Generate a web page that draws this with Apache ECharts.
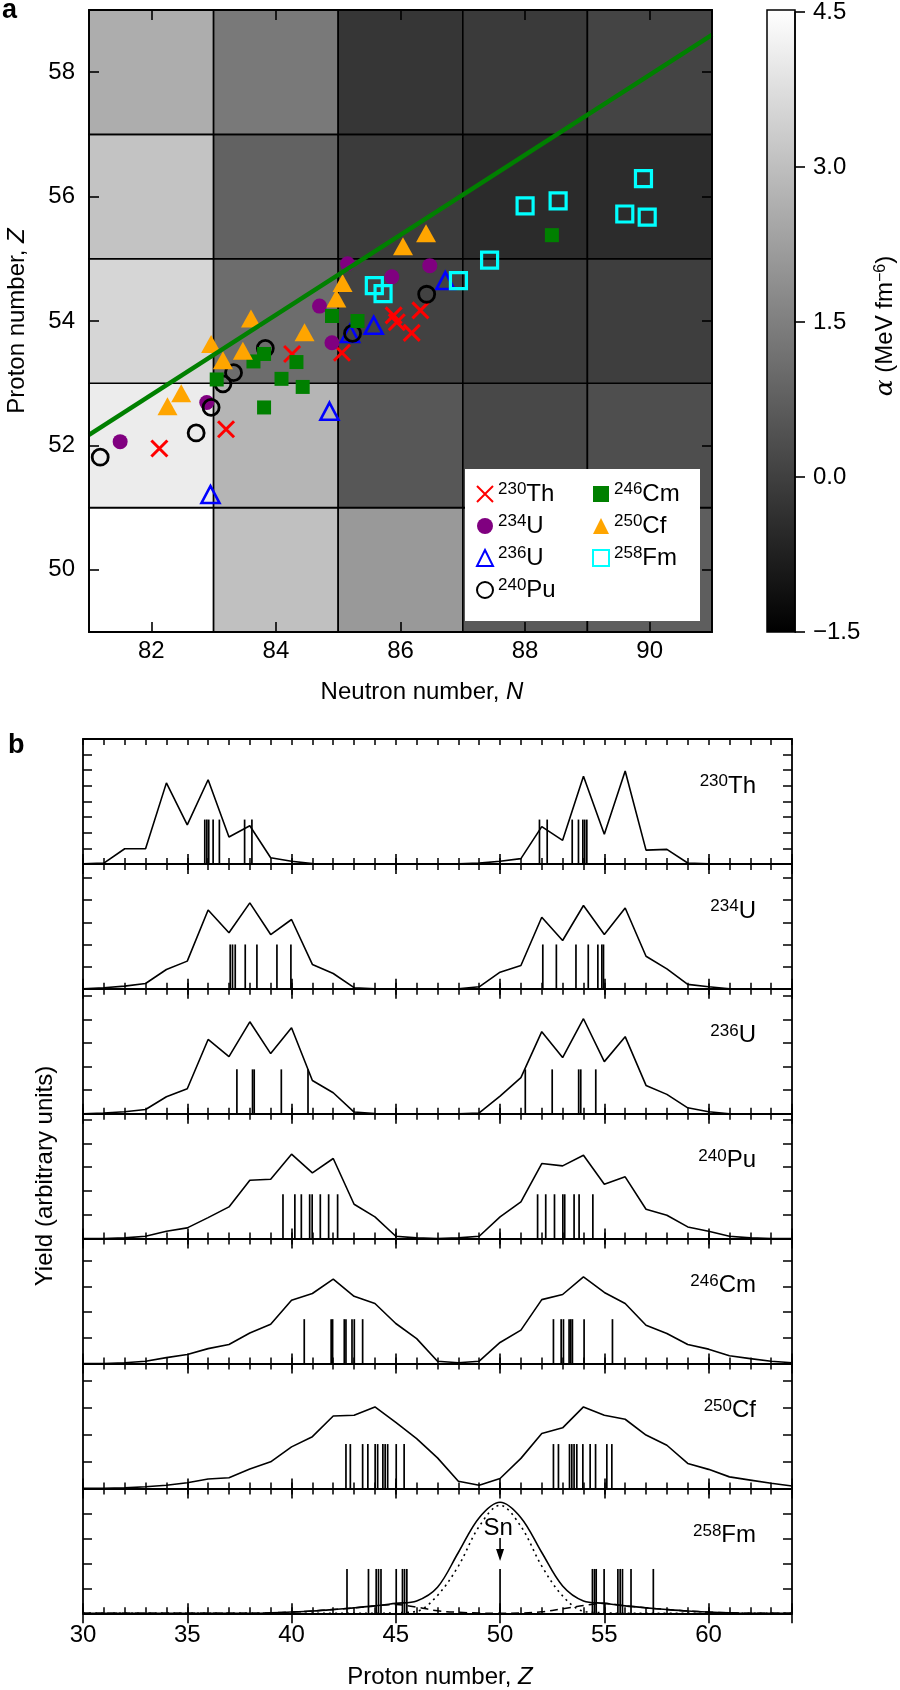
<!DOCTYPE html>
<html>
<head>
<meta charset="utf-8">
<title>Fragment map and charge yields</title>
<script src="https://cdn.jsdelivr.net/npm/echarts@6.0.0/dist/echarts.min.js"></script>
<style>
  html, body { margin: 0; padding: 0; background: #ffffff; }
  #chart { width: 900px; height: 1690px; }
</style>
</head>
<body>
<div id="chart"></div>
<script>
// ---------- panel a: alpha map, cell centres ----------
const cellN = [82, 84, 86, 88, 90];
const cellZ = [50, 52, 54, 56, 58];
// rows follow cellZ, columns follow cellN (MeV fm^-6)
const cellAlpha = [
  [4.50, 3.02, 2.10, 0.62, 0.71],
  [4.05, 2.76, 0.55, 0.19, 0.34],
  [3.54, 1.06, 0.05, -0.11, -0.04],
  [3.09, 0.81, -0.11, -0.49, -0.46],
  [2.57, 1.35, -0.23, -0.14, 0.10]
];

// fragment positions (N, Z)
const th230N = [82.13, 83.20, 84.26, 85.06, 85.89, 85.94, 86.18, 86.32];
const th230Z = [51.95, 52.26, 53.47, 53.49, 54.09, 53.98, 53.81, 54.17];
const u234N = [81.50, 82.89, 84.70, 84.90, 85.15, 85.86, 86.47];
const u234Z = [52.06, 52.69, 54.24, 53.65, 54.92, 54.71, 54.89];
const u236N = [82.95, 84.86, 85.19, 85.57, 86.72];
const u236Z = [51.21, 52.55, 53.80, 53.93, 54.65];
const pu240N = [81.18, 82.72, 82.96, 83.15, 83.32, 83.83, 85.23, 86.42];
const pu240Z = [51.81, 52.20, 52.61, 52.99, 53.17, 53.56, 53.80, 54.43];
const cm246N = [83.05, 83.64, 83.81, 83.81, 84.09, 84.33, 84.43, 84.90, 85.31, 88.43];
const cm246Z = [53.06, 53.35, 53.47, 52.61, 53.07, 53.34, 52.94, 54.08, 54.00, 55.38];
const cf250N = [82.26, 82.48, 82.96, 83.15, 83.47, 83.60, 84.46, 84.97, 85.07, 86.04, 86.41];
const cf250Z = [52.63, 52.84, 53.63, 53.37, 53.52, 54.04, 53.82, 54.36, 54.61, 55.20, 55.41];
const fm258N = [85.58, 85.72, 86.93, 87.43, 88.00, 88.53, 89.90, 89.60, 89.96];
const fm258Z = [54.57, 54.44, 54.65, 54.98, 55.85, 55.93, 56.29, 55.72, 55.67];

// green line
const fitN = [81, 91];
const fitZ = [52.17, 58.60];

// ---------- panel b: charge yields ----------
const protonZ = [30, 31, 32, 33, 34, 35, 36, 37, 38, 39, 40, 41, 42, 43, 44, 45, 46,
  47, 48, 49, 50, 51, 52, 53, 54, 55, 56, 57, 58, 59, 60, 61, 62, 63, 64];
const yieldTh230 = [0, 0.05, 0.97, 0.97, 5.19, 2.50, 5.39, 1.72, 2.44, 0.39,
  0.17, 0.02, 0, 0, 0, 0, 0, 0, 0, 0.05,
  0.17, 0.34, 2.39, 1.51, 5.62, 1.90, 5.95, 0.88, 0.93, 0.06,
  0, 0, 0, 0, 0];
const yieldU234 = [0, 0.05, 0.12, 0.24, 0.87, 1.25, 3.56, 2.53, 3.88, 2.45,
  3.13, 1.10, 0.69, 0.05, 0, 0, 0, 0, 0, 0.09,
  0.75, 1.05, 3.23, 2.18, 3.76, 2.45, 3.65, 1.47, 0.90, 0.20,
  0.09, 0, 0, 0, 0];
const yieldU236 = [0, 0.03, 0.08, 0.18, 0.72, 1.06, 3.15, 2.42, 3.90, 2.55,
  3.65, 1.41, 0.89, 0.07, 0.01, 0, 0, 0, 0, 0.03,
  0.75, 1.53, 3.48, 2.38, 4.03, 2.21, 3.27, 1.20, 0.82, 0.25,
  0.08, 0, 0, 0, 0];
const yieldPu240 = [0, 0, 0.03, 0.10, 0.31, 0.45, 0.88, 1.33, 2.45, 2.49,
  3.54, 2.76, 3.36, 1.44, 0.91, 0.10, 0.03, 0, 0.03, 0.10,
  0.91, 1.54, 3.15, 3.05, 3.50, 2.28, 2.59, 1.23, 0.98, 0.49,
  0.31, 0.10, 0.03, 0, 0];
const yieldCm246 = [0, 0, 0.03, 0.09, 0.23, 0.35, 0.58, 0.74, 1.19, 1.53,
  2.47, 2.73, 3.29, 2.62, 2.34, 1.56, 0.97, 0.09, 0.03, 0.09,
  0.82, 1.30, 2.49, 2.69, 3.38, 2.77, 2.34, 1.49, 1.17, 0.74,
  0.56, 0.30, 0.19, 0.09, 0.03];
const yieldCf250 = [0, 0, 0.02, 0.06, 0.12, 0.21, 0.35, 0.40, 0.72, 0.99,
  1.55, 1.93, 2.70, 2.73, 3.04, 2.46, 1.86, 1.14, 0.27, 0.12,
  0.37, 1.12, 2.05, 2.26, 3.04, 2.73, 2.58, 1.99, 1.61, 0.93,
  0.71, 0.43, 0.31, 0.19, 0.09];
const yieldFm258 = [0, 0, 0, 0, 0, 0, 0, 0, 0, 0.02,
  0.05, 0.09, 0.15, 0.22, 0.30, 0.40, 0.50, 1.05, 2.45, 3.85,
  4.47, 3.85, 2.45, 1.10, 0.50, 0.40, 0.30, 0.22, 0.15, 0.09,
  0.05, 0.02, 0, 0, 0];
const yieldFm258Sym = [0, 0, 0, 0, 0, 0, 0, 0, 0, 0,
  0, 0, 0, 0, 0, 0.02, 0.08, 0.72, 1.90, 3.50,
  4.35, 3.50, 1.90, 0.70, 0.08, 0.02, 0, 0, 0, 0,
  0, 0, 0, 0, 0];
const yieldFm258Asym = [0, 0, 0, 0, 0, 0, 0, 0, 0, 0.02,
  0.05, 0.09, 0.15, 0.22, 0.30, 0.35, 0.25, 0.10, 0.04, 0.01,
  0, 0.01, 0.06, 0.18, 0.31, 0.40, 0.30, 0.22, 0.15, 0.09,
  0.05, 0.02, 0, 0, 0];

// measured / computed fragment charges (vertical sticks)
const sticksTh230 = [35.84, 35.94, 36.03, 36.24, 36.54, 37.75, 38.10,
  51.89, 52.26, 53.46, 53.76, 53.97, 54.06, 54.16];
const sticksU234 = [37.06, 37.17, 37.30, 37.78, 38.34, 39.30, 39.97,
  52.05, 52.70, 53.64, 54.23, 54.69, 54.88, 54.96];
const sticksU236 = [37.38, 38.13, 38.21, 39.51, 40.79, 51.21, 52.50, 53.77, 53.87, 54.59];
const sticksPu240 = [39.59, 40.16, 40.47, 40.87, 40.99, 41.38, 41.78, 42.21,
  51.80, 52.19, 52.61, 53.01, 53.10, 53.55, 53.79, 54.45];
const sticksCm246 = [40.61, 41.90, 41.97, 42.53, 42.61, 42.90, 43.01, 43.41,
  52.56, 52.93, 53.04, 53.31, 53.39, 53.47, 54.03, 55.39];
const sticksCf250 = [42.61, 42.82, 43.41, 43.66, 44.01, 44.13, 44.38, 44.49, 44.61, 45.02, 45.40,
  52.56, 52.80, 53.33, 53.44, 53.55, 53.68, 53.97, 54.32, 54.58, 55.12, 55.36];
const sticksFm258 = [42.66, 43.69, 44.06, 44.17, 44.29, 45.02, 45.32, 45.42, 45.53, 50.00,
  54.43, 54.53, 54.61, 54.99, 55.65, 55.76, 55.87, 56.28, 57.35];

const panelNames = ['230Th', '234U', '236U', '240Pu', '246Cm', '250Cf', '258Fm'];
const panelYMax = [8.0, 5.64, 5.30, 5.24, 4.87, 4.66, 5.03];
const panelYields = [yieldTh230, yieldU234, yieldU236, yieldPu240, yieldCm246, yieldCf250, yieldFm258];
const panelSticks = [sticksTh230, sticksU234, sticksU236, sticksPu240, sticksCm246, sticksCf250, sticksFm258];

// ---------- layout ----------
const FONT = '"Liberation Sans", Arial, Helvetica, sans-serif';
const gridA = { left: 89, top: 10, width: 623, height: 622 };
const gridBar = { left: 767, top: 10, width: 28, height: 622 };
const bLeft = 83, bTop = 739, bWidth = 709, bHeight = 124.9;
const stickFrac = 0.355;

const chart = echarts.init(document.getElementById('chart'));

const grids = [gridA, gridBar];
for (let i = 0; i < 7; i++) {
  grids.push({ left: bLeft, top: bTop + i * bHeight, width: bWidth, height: bHeight });
}

function frameAxis(o) {
  return Object.assign({
    type: 'value',
    z: 10,
    axisLine: { show: true, onZero: false, lineStyle: { color: '#000', width: 1.8 } },
    axisTick: { show: true, inside: true, length: 10, lineStyle: { color: '#000', width: 1.6 } },
    axisLabel: { show: false },
    splitLine: { show: false }
  }, o);
}
const tickLabel = { show: true, fontSize: 24, color: '#000', fontFamily: FONT };

const xAxes = [], yAxes = [];
// panel a
xAxes.push(frameAxis({ gridIndex: 0, position: 'bottom', min: 81, max: 91, splitNumber: 5, minInterval: 2, maxInterval: 2,
  axisLabel: Object.assign({ margin: 7, showMinLabel: false, showMaxLabel: false }, tickLabel) }));
xAxes.push(frameAxis({ gridIndex: 0, position: 'top', min: 81, max: 91, splitNumber: 5, minInterval: 2, maxInterval: 2 }));
xAxes.push({ gridIndex: 1, type: 'value', show: false, min: 0, max: 1 });
yAxes.push(frameAxis({ gridIndex: 0, position: 'left', min: 49, max: 59, splitNumber: 5, minInterval: 2, maxInterval: 2,
  axisLabel: Object.assign({ margin: 14, showMinLabel: false, showMaxLabel: false }, tickLabel) }));
yAxes.push(frameAxis({ gridIndex: 0, position: 'right', min: 49, max: 59, splitNumber: 5, minInterval: 2, maxInterval: 2 }));
yAxes.push(frameAxis({ gridIndex: 1, position: 'right', min: -1.5, max: 4.5, interval: 1.5,
  axisLine: { show: true, onZero: false, lineStyle: { color: '#000', width: 1.5 } },
  axisTick: { show: true, inside: false, length: 10, lineStyle: { color: '#000', width: 1.6 } },
  axisLabel: Object.assign({ margin: 18, formatter: v => (v < 0 ? '\u2212' : '') + Math.abs(v).toFixed(1) }, tickLabel) }));

// panel b
const bx = [], by = [];
for (let i = 0; i < 7; i++) {
  const gi = 2 + i;
  const last = i === 6;
  bx.push(xAxes.length);
  xAxes.push(frameAxis({ gridIndex: gi, position: 'bottom', min: 30, max: 64, interval: 1,
    axisTick: { show: true, inside: true, length: 6, lineStyle: { color: '#000', width: 1.5 } },
    axisLabel: last ? Object.assign({ margin: 10, formatter: v => (v % 5 === 0 ? String(v) : '') }, tickLabel) : { show: false } }));
  xAxes.push(frameAxis({ gridIndex: gi, position: 'bottom', min: 30, max: 64, interval: 5, axisLine: { show: false } }));
  xAxes.push(frameAxis({ gridIndex: gi, position: 'top', min: 30, max: 64, interval: 1,
    axisTick: { show: true, inside: true, length: 6, lineStyle: { color: '#000', width: 1.5 } } }));
  xAxes.push(frameAxis({ gridIndex: gi, position: 'top', min: 30, max: 64, interval: 5, axisLine: { show: false } }));
  by.push(yAxes.length);
  yAxes.push(frameAxis({ gridIndex: gi, position: 'left', min: 0, max: panelYMax[i], interval: 1,
    axisTick: { show: true, inside: true, length: 9, lineStyle: { color: '#000', width: 1.5 } } }));
  yAxes.push(frameAxis({ gridIndex: gi, position: 'right', min: 0, max: panelYMax[i], interval: 1,
    axisTick: { show: true, inside: true, length: 9, lineStyle: { color: '#000', width: 1.5 } } }));
}

// ---------- series ----------
const cellData = [];
cellZ.forEach((z, zi) => cellN.forEach((n, ni) => cellData.push([n, z, cellAlpha[zi][ni]])));

const series = [];
series.push({
  type: 'custom', name: 'alpha', xAxisIndex: 0, yAxisIndex: 0, z: 1,
  encode: { x: 0, y: 1 },
  data: cellData,
  renderItem: function (params, api) {
    const half = (cellN[1] - cellN[0]) / 2;
    const p0 = api.coord([api.value(0) - half, api.value(1) + half]);
    const p1 = api.coord([api.value(0) + half, api.value(1) - half]);
    return {
      type: 'rect',
      shape: { x: p0[0], y: p0[1], width: p1[0] - p0[0], height: p1[1] - p0[1] },
      style: { fill: api.visual('color'), stroke: '#000', lineWidth: 1.6 }
    };
  }
});

const markers = [
  { name: '230Th', n: th230N, z: th230Z, symbol: 'path://M0,0L10,10M10,0L0,10', size: 16,
    style: { color: 'rgba(0,0,0,0)', borderColor: '#ff0000', borderWidth: 3 } },
  { name: '234U', n: u234N, z: u234Z, symbol: 'circle', size: 15, style: { color: '#800080' } },
  { name: '236U', n: u236N, z: u236Z, symbol: 'triangle', size: [18, 17],
    style: { color: 'rgba(0,0,0,0)', borderColor: '#0000ff', borderWidth: 2.6 } },
  { name: '240Pu', n: pu240N, z: pu240Z, symbol: 'circle', size: 16,
    style: { color: 'rgba(0,0,0,0)', borderColor: '#000000', borderWidth: 2.8 } },
  { name: '246Cm', n: cm246N, z: cm246Z, symbol: 'rect', size: 14, style: { color: '#008000' } },
  { name: '250Cf', n: cf250N, z: cf250Z, symbol: 'triangle', size: [20, 18], style: { color: '#ffa500' } },
  { name: '258Fm', n: fm258N, z: fm258Z, symbol: 'rect', size: 16,
    style: { color: 'rgba(0,0,0,0)', borderColor: '#00ffff', borderWidth: 3.2 } }
];
markers.forEach(m => {
  series.push({
    type: 'scatter', name: m.name, xAxisIndex: 0, yAxisIndex: 0, z: 3,
    symbol: m.symbol, symbolSize: m.size, itemStyle: Object.assign({ opacity: 1 }, m.style),
    data: m.n.map((n, k) => [n, m.z[k]])
  });
});
series.push({
  type: 'line', name: 'fit', xAxisIndex: 0, yAxisIndex: 0, z: 4, showSymbol: false,
  lineStyle: { color: '#008000', width: 4.5 },
  data: fitN.map((n, k) => [n, fitZ[k]])
});

let fmSeriesIndex = 0;
for (let i = 0; i < 7; i++) {
  const smooth = i === 6 ? 0.35 : false;
  series.push({
    type: 'line', xAxisIndex: bx[i], yAxisIndex: by[i], showSymbol: false, smooth: smooth, z: 2,
    lineStyle: { color: '#000', width: 1.6 },
    data: protonZ.map((z, k) => [z, panelYields[i][k]])
  });
  if (i === 6) {
    series.push({
      type: 'line', xAxisIndex: bx[i], yAxisIndex: by[i], showSymbol: false, smooth: 0.35, z: 2,
      lineStyle: { color: '#000', width: 1.6, type: [2, 4] },
      data: protonZ.map((z, k) => [z, yieldFm258Sym[k]])
    });
    series.push({
      type: 'line', xAxisIndex: bx[i], yAxisIndex: by[i], showSymbol: false, smooth: 0.35, z: 2,
      lineStyle: { color: '#000', width: 1.5, type: [8, 5] },
      data: protonZ.map((z, k) => [z, yieldFm258Asym[k]])
    });
  }
  const h = panelYMax[i] * stickFrac;
  if (i === 6) fmSeriesIndex = series.length;
  series.push({
    type: 'custom', xAxisIndex: bx[i], yAxisIndex: by[i], z: 3,
    encode: { x: 0, y: 1 },
    data: panelSticks[i].map(z => [z, h]),
    renderItem: function (params, api) {
      const a = api.coord([api.value(0), 0]);
      const b = api.coord([api.value(0), api.value(1)]);
      return { type: 'line', shape: { x1: a[0], y1: a[1], x2: b[0], y2: b[1] },
        style: { stroke: '#000', lineWidth: 1.7 } };
    }
  });
}

function isoText(name) {
  const m = name.match(/^(\d+)(\D+)$/);
  return '{sup|' + m[1] + '}{el|' + m[2] + '}';
}
const legendRich = {
  sup: { fontSize: 17, fontFamily: FONT, color: '#000', verticalAlign: 'top' },
  el: { fontSize: 24, fontFamily: FONT, color: '#000', lineHeight: 26 }
};
function legendAt(left, names) {
  return {
    data: names, orient: 'vertical', left: left, top: 481, padding: 0,
    itemWidth: 16, itemHeight: 16, itemGap: 7, selectedMode: false, z: 30,
    formatter: isoText,
    textStyle: { rich: legendRich }
  };
}

chart.setOption({
  animation: false,
  backgroundColor: '#ffffff',
  textStyle: { fontFamily: FONT, color: '#000' },
  grid: grids,
  visualMap: [{
    type: 'continuous', show: false, seriesIndex: 0, dimension: 2,
    min: -1.5, max: 4.5, inRange: { color: ['#000000', '#ffffff'] }
  }],
  legend: [legendAt(476, ['230Th', '234U', '236U', '240Pu']), legendAt(592, ['246Cm', '250Cf', '258Fm'])],
  xAxis: xAxes,
  yAxis: yAxes,
  series: series
});

// ---------- text, colour bar, annotations ----------
const richText = {
  sup: { fontSize: 17, fontFamily: FONT, verticalAlign: 'top', fill: '#000' },
  el: { fontSize: 24, fontFamily: FONT, lineHeight: 26, fill: '#000' },
  tx: { fontSize: 24, fontFamily: FONT, fill: '#000' },
  it: { fontSize: 24, fontFamily: FONT, fontStyle: 'italic', fill: '#000' },
  al: { fontSize: 25, fontFamily: 'DejaVu Serif, serif', fontStyle: 'italic', fill: '#000' },
  ex: { fontSize: 16, fontFamily: FONT, verticalAlign: 'top', fill: '#000' }
};
function txt(x, y, text, opts) {
  return Object.assign({
    type: 'text', x: x, y: y, z: 40,
    style: Object.assign({ text: text, fill: '#000', font: '24px ' + FONT, rich: richText,
      align: 'center', verticalAlign: 'middle', textAlign: 'center', textVerticalAlign: 'middle' }, opts || {})
  });
}
const gfx = [];
gfx.push(txt(2, 11, 'a', { font: 'bold 27px ' + FONT, align: 'left', textAlign: 'left' }));
gfx.push(txt(8, 746, 'b', { font: 'bold 27px ' + FONT, align: 'left', textAlign: 'left' }));
gfx.push(Object.assign(txt(17, 321, '{tx|Proton number, }{it|Z}'), { rotation: Math.PI / 2 }));
gfx.push(txt(422, 692, '{tx|Neutron number, }{it|N}'));
gfx.push(Object.assign(txt(885, 326, '{al|\u03b1}{tx| (MeV fm}{ex|\u22126}{tx|)}'), { rotation: Math.PI / 2 }));
gfx.push(Object.assign(txt(45, 1176, '{tx|Yield (arbitrary units)}'), { rotation: Math.PI / 2 }));
gfx.push(txt(440, 1677, '{tx|Proton number, }{it|Z}'));
gfx.push({
  type: 'rect', z: 5,
  shape: { x: gridBar.left, y: gridBar.top, width: gridBar.width, height: gridBar.height },
  style: {
    fill: new echarts.graphic.LinearGradient(0, 0, 0, 1, [{ offset: 0, color: '#ffffff' }, { offset: 1, color: '#000000' }]),
    stroke: '#000', lineWidth: 1.5
  }
});
gfx.push({
  type: 'rect', z: 20,
  shape: { x: 465, y: 469, width: 235, height: 152 },
  style: { fill: '#ffffff', stroke: null }
});
for (let i = 0; i < 7; i++) {
  gfx.push(txt(756, bTop + i * bHeight + 47, isoText(panelNames[i]), { align: 'right', textAlign: 'right' }));
}
// Sn marker above the stick at Z = 50
const snTop = chart.convertToPixel({ seriesIndex: fmSeriesIndex }, [50, panelYMax[6] * stickFrac]);
const tipY = snTop[1] - 8;
gfx.push(txt(snTop[0] - 2, tipY - 33, '{tx|Sn}'));
gfx.push({ type: 'line', z: 40, shape: { x1: snTop[0], y1: tipY - 23, x2: snTop[0], y2: tipY - 10 },
  style: { stroke: '#000', lineWidth: 1.6 } });
gfx.push({ type: 'polygon', z: 40,
  shape: { points: [[snTop[0] - 4, tipY - 12], [snTop[0] + 4, tipY - 12], [snTop[0], tipY]] },
  style: { fill: '#000' } });

chart.setOption({ graphic: gfx });
</script>
</body>
</html>
